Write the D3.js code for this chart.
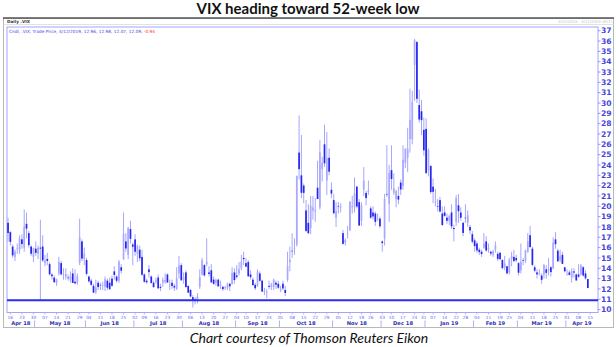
<!DOCTYPE html>
<html>
<head>
<meta charset="utf-8">
<script src="https://cdn.jsdelivr.net/npm/d3@7/dist/d3.min.js"></script>
<style>
  html, body { margin: 0; padding: 0; background: #fff; }
  svg { display: block; }
</style>
</head>
<body>
<svg id="chart" width="616" height="347"></svg>
<script>
// Daily .VIX candles, 13 Apr 2018 – 12 Apr 2019
const tradingDays = [
  // Apr 2018
  "2018-04-13","2018-04-16","2018-04-17","2018-04-18","2018-04-19","2018-04-20","2018-04-23","2018-04-24","2018-04-25","2018-04-26","2018-04-27","2018-04-30",
  // May
  "2018-05-01","2018-05-02","2018-05-03","2018-05-04","2018-05-07","2018-05-08","2018-05-09","2018-05-10","2018-05-11","2018-05-14","2018-05-15","2018-05-16","2018-05-17","2018-05-18","2018-05-21","2018-05-22","2018-05-23","2018-05-24","2018-05-25","2018-05-29","2018-05-30","2018-05-31",
  // Jun
  "2018-06-01","2018-06-04","2018-06-05","2018-06-06","2018-06-07","2018-06-08","2018-06-11","2018-06-12","2018-06-13","2018-06-14","2018-06-15","2018-06-18","2018-06-19","2018-06-20","2018-06-21","2018-06-22","2018-06-25","2018-06-26","2018-06-27","2018-06-28","2018-06-29",
  // Jul
  "2018-07-02","2018-07-03","2018-07-05","2018-07-06","2018-07-09","2018-07-10","2018-07-11","2018-07-12","2018-07-13","2018-07-16","2018-07-17","2018-07-18","2018-07-19","2018-07-20","2018-07-23","2018-07-24","2018-07-25","2018-07-26","2018-07-27","2018-07-30","2018-07-31",
  // Aug
  "2018-08-01","2018-08-02","2018-08-03","2018-08-06","2018-08-07","2018-08-08","2018-08-09","2018-08-10","2018-08-13","2018-08-14","2018-08-15","2018-08-16","2018-08-17","2018-08-20","2018-08-21","2018-08-22","2018-08-23","2018-08-24","2018-08-27","2018-08-28","2018-08-29","2018-08-30","2018-08-31",
  // Sep
  "2018-09-04","2018-09-05","2018-09-06","2018-09-07","2018-09-10","2018-09-11","2018-09-12","2018-09-13","2018-09-14","2018-09-17","2018-09-18","2018-09-19","2018-09-20","2018-09-21","2018-09-24","2018-09-25","2018-09-26","2018-09-27","2018-09-28",
  // Oct
  "2018-10-01","2018-10-02","2018-10-03","2018-10-04","2018-10-05","2018-10-08","2018-10-09","2018-10-10","2018-10-11","2018-10-12","2018-10-15","2018-10-16","2018-10-17","2018-10-18","2018-10-19","2018-10-22","2018-10-23","2018-10-24","2018-10-25","2018-10-26","2018-10-29","2018-10-30","2018-10-31",
  // Nov
  "2018-11-01","2018-11-02","2018-11-05","2018-11-06","2018-11-07","2018-11-08","2018-11-09","2018-11-12","2018-11-13","2018-11-14","2018-11-15","2018-11-16","2018-11-19","2018-11-20","2018-11-21","2018-11-23","2018-11-26","2018-11-27","2018-11-28","2018-11-29","2018-11-30",
  // Dec
  "2018-12-03","2018-12-04","2018-12-06","2018-12-07","2018-12-10","2018-12-11","2018-12-12","2018-12-13","2018-12-14","2018-12-17","2018-12-18","2018-12-19","2018-12-20","2018-12-21","2018-12-24","2018-12-26","2018-12-27","2018-12-28","2018-12-31",
  // Jan 2019
  "2019-01-02","2019-01-03","2019-01-04","2019-01-07","2019-01-08","2019-01-09","2019-01-10","2019-01-11","2019-01-14","2019-01-15","2019-01-16","2019-01-17","2019-01-18","2019-01-22","2019-01-23","2019-01-24","2019-01-25","2019-01-28","2019-01-29","2019-01-30","2019-01-31",
  // Feb
  "2019-02-01","2019-02-04","2019-02-05","2019-02-06","2019-02-07","2019-02-08","2019-02-11","2019-02-12","2019-02-13","2019-02-14","2019-02-15","2019-02-19","2019-02-20","2019-02-21","2019-02-22","2019-02-25","2019-02-26","2019-02-27","2019-02-28",
  // Mar
  "2019-03-01","2019-03-04","2019-03-05","2019-03-06","2019-03-07","2019-03-08","2019-03-11","2019-03-12","2019-03-13","2019-03-14","2019-03-15","2019-03-18","2019-03-19","2019-03-20","2019-03-21","2019-03-22","2019-03-25","2019-03-26","2019-03-27","2019-03-28","2019-03-29",
  // Apr
  "2019-04-01","2019-04-02","2019-04-03","2019-04-04","2019-04-05","2019-04-08","2019-04-09","2019-04-10","2019-04-11","2019-04-12"
];

const openPx = [
  18.4,17.5,16.1,15.1,15.9,15.8,16.8,16.0,18.3,17.4,16.1,15.1,
  15.9,15.4,16.0,16.1,14.5,14.9,14.4,13.4,13.1,12.6,13.5,14.5,13.4,13.2,13.1,12.9,13.5,12.7,12.6,14.5,16.6,14.9,
  14.8,13.2,12.8,12.3,11.7,12.6,12.4,12.3,12.2,12.8,12.6,13.0,13.7,13.2,12.8,14.1,14.9,16.6,15.3,17.8,16.3,
  16.8,15.4,15.8,15.1,13.4,12.8,13.9,13.2,12.6,12.7,13.1,12.2,12.6,12.7,13.4,12.4,12.6,12.3,12.0,13.5,14.3,
  12.9,13.6,12.3,11.9,11.2,11.0,11.0,12.2,13.4,14.3,14.4,13.6,13.8,12.9,12.6,12.9,12.3,12.2,12.1,12.1,12.5,12.5,13.6,
  13.3,13.5,14.0,15.0,14.5,14.6,13.4,12.9,12.4,12.3,13.5,12.8,11.7,11.6,12.3,12.2,12.2,12.6,12.5,
  11.9,12.5,11.9,12.9,14.6,15.7,15.9,16.3,25.2,23.0,22.0,19.6,18.4,17.9,19.6,19.5,21.8,19.9,23.6,26.0,22.5,24.7,21.6,
  20.6,18.9,20.0,19.9,17.4,16.5,17.3,17.7,19.9,19.9,21.9,20.4,18.6,21.6,21.3,21.4,19.8,19.4,19.3,18.7,18.8,
  16.6,16.9,21.2,20.2,23.5,21.3,20.7,21.0,22.3,22.0,24.2,24.7,26.5,26.5,33.7,35.9,29.8,29.2,27.4,
  27.5,23.5,23.9,21.9,20.4,20.0,20.6,19.3,19.4,18.9,18.6,19.4,17.9,18.5,20.1,19.4,18.4,18.9,18.4,18.0,17.3,
  16.7,16.4,15.8,15.6,16.0,16.6,15.8,15.6,15.3,15.8,15.4,15.5,14.8,14.1,14.2,13.6,14.9,15.1,15.0,
  14.5,13.8,14.8,14.7,15.6,17.2,15.9,14.1,13.6,13.5,13.3,13.4,13.9,13.8,14.1,14.0,16.8,15.7,14.8,15.3,14.1,
  13.4,13.6,13.1,13.7,13.4,13.4,13.4,14.1,13.5,12.96
];

const highPx = [
  18.9,17.6,16.3,15.8,16.4,17.2,17.3,19.7,19.4,17.6,16.2,16.0,
  16.6,16.2,18.7,17.2,15.3,15.5,14.6,13.5,13.3,13.0,15.1,14.7,14.0,14.0,13.4,13.7,14.0,13.9,13.5,18.8,16.8,16.0,
  15.0,13.3,13.0,12.5,12.9,12.8,12.6,12.7,13.2,13.0,13.1,13.3,14.2,13.3,14.8,14.4,19.4,17.4,18.0,18.6,16.5,
  17.3,16.3,16.2,15.8,13.5,13.0,14.3,13.3,12.8,13.1,13.4,12.5,13.1,13.5,13.5,12.9,12.9,12.5,14.1,15.2,14.5,
  13.6,13.8,12.3,12.0,11.4,11.2,11.6,13.9,15.0,14.4,16.9,14.2,14.4,13.2,13.0,13.0,12.8,12.3,12.3,12.6,12.6,14.1,14.0,
  14.3,14.6,15.3,15.6,15.0,14.8,13.8,13.1,12.6,13.9,13.7,12.9,12.1,12.0,12.8,12.6,13.0,12.8,12.8,
  12.3,12.8,12.3,15.6,16.1,17.4,16.9,22.9,28.8,26.9,22.2,20.6,20.2,21.0,21.0,20.8,24.4,26.4,24.8,27.9,27.2,25.6,22.3,
  21.2,20.4,20.4,20.3,17.7,16.9,18.1,20.5,21.0,22.8,22.0,20.7,20.4,23.8,21.5,22.5,20.0,20.0,19.5,19.3,19.0,
  16.7,21.2,25.9,24.0,25.9,23.2,21.6,21.9,22.6,25.9,25.6,27.6,31.4,31.2,36.2,36.0,31.3,30.3,28.6,
  28.5,25.6,24.0,22.7,21.7,20.7,20.9,20.0,20.0,19.3,19.2,20.2,18.2,21.1,21.2,19.9,18.5,20.2,19.6,18.2,17.6,
  16.9,16.6,16.0,15.8,17.4,17.1,16.4,15.7,15.8,16.6,15.6,15.6,14.9,15.2,14.2,15.0,15.6,15.8,15.3,
  14.6,16.4,15.0,15.8,17.4,18.1,16.1,14.3,13.9,13.9,13.5,14.4,14.3,15.0,14.2,17.0,17.5,15.9,15.8,15.6,14.1,
  13.9,13.8,14.0,14.0,13.5,14.4,14.4,14.2,13.8,12.98
];

const lowPx = [
  16.6,16.2,15.0,14.7,15.4,15.4,15.9,15.6,16.9,16.0,15.2,14.6,
  15.2,14.9,10.95,14.6,14.2,14.3,13.3,12.9,12.6,12.3,13.3,13.3,12.9,12.9,12.8,12.6,12.6,12.5,12.4,14.3,14.7,14.3,
  13.3,12.6,12.3,11.6,11.5,11.9,11.9,11.9,11.8,11.9,11.9,12.2,12.9,12.6,12.6,13.5,14.8,15.6,14.9,16.4,14.3,
  15.2,14.6,14.7,13.3,12.6,12.5,13.1,12.5,12.1,12.5,12.0,11.8,12.2,12.5,12.6,11.9,12.0,11.8,11.9,13.0,12.8,
  12.5,12.1,11.6,11.2,10.2,10.5,10.6,12.0,13.3,13.2,14.2,13.2,12.6,12.4,12.3,12.2,12.0,11.8,11.9,11.9,11.8,12.4,12.5,
  13.0,13.3,13.8,14.3,14.1,13.2,12.9,12.3,11.9,12.2,12.7,11.7,11.4,11.1,12.0,11.9,11.9,12.0,12.0,
  11.7,11.9,11.3,12.7,13.7,15.0,15.3,16.1,22.6,20.8,20.3,17.5,17.3,17.3,18.7,18.5,20.7,19.7,22.4,23.8,21.1,23.0,20.8,
  19.2,18.0,19.3,19.4,16.3,16.2,16.9,17.6,19.3,19.4,19.8,18.1,18.1,21.0,20.1,21.1,18.8,18.7,18.1,18.6,17.9,
  15.6,16.2,20.9,18.5,21.6,21.1,19.9,20.2,21.1,21.6,23.7,23.3,25.2,26.0,30.2,30.0,28.1,26.9,24.9,
  23.1,22.9,21.2,20.3,20.0,19.5,19.4,18.1,19.0,18.3,18.2,17.8,16.6,18.1,18.4,18.6,17.1,18.4,18.0,17.3,16.4,
  15.6,15.5,15.3,15.1,15.9,15.6,15.5,15.2,15.1,15.5,14.7,14.8,13.9,13.8,13.4,13.4,14.2,14.6,14.6,
  13.3,13.5,14.3,14.5,15.5,16.0,14.2,13.6,13.0,13.3,12.5,13.0,13.0,13.3,13.2,13.9,15.9,14.6,14.6,14.4,13.6,
  13.3,13.3,12.6,13.1,12.8,13.1,13.3,13.2,12.9,12.07
];

const closePx = [
  17.41,16.56,15.25,15.60,15.96,16.88,16.34,18.02,17.84,16.24,15.41,15.93,
  15.49,15.97,15.90,14.77,14.75,14.71,13.42,13.23,12.65,12.93,14.63,13.42,13.43,13.42,13.08,13.22,12.58,12.53,13.22,17.02,14.94,15.43,
  13.46,12.74,12.40,11.64,12.13,12.18,12.35,12.34,12.94,12.12,11.98,12.31,13.35,12.79,14.64,13.77,17.33,15.92,17.91,16.85,16.09,
  15.60,16.14,14.97,13.37,12.69,12.64,13.63,12.58,12.18,12.83,12.06,12.10,12.87,12.86,12.62,12.41,12.29,12.14,13.03,14.26,12.83,
  13.15,12.19,11.64,11.27,10.93,10.85,11.27,13.16,14.78,13.31,14.64,13.45,12.64,12.49,12.86,12.25,12.41,11.99,12.16,12.50,12.25,13.53,12.86,
  13.16,13.91,14.65,14.88,14.16,13.22,13.14,12.37,12.07,13.68,12.79,11.75,11.80,11.68,12.20,12.42,12.89,12.41,12.12,
  12.00,12.05,11.61,14.22,14.82,15.69,15.95,22.96,23.60,21.31,21.30,17.62,17.40,20.06,19.89,19.64,20.71,25.23,24.22,24.16,24.70,23.35,21.23,
  19.34,19.51,19.96,19.91,16.36,16.72,17.36,20.45,20.02,21.25,19.98,18.14,20.10,22.48,20.80,21.52,18.90,19.02,18.49,18.79,18.07,
  16.44,20.74,21.19,23.23,22.64,21.76,21.46,20.65,21.63,24.52,25.58,25.58,28.38,30.11,36.07,30.41,28.40,28.34,25.42,
  23.22,25.45,21.38,21.40,20.47,19.98,19.50,18.19,19.07,18.60,19.04,18.06,17.80,20.80,19.52,18.89,17.42,18.87,19.13,17.66,16.57,
  16.14,15.73,15.57,15.38,16.37,15.72,15.97,15.43,15.65,16.22,14.91,14.88,14.02,14.46,13.51,14.85,15.17,14.70,14.78,
  13.57,14.63,14.74,15.74,16.59,16.05,14.33,13.77,13.41,13.50,12.88,14.33,13.56,13.91,13.63,16.48,16.33,14.68,15.15,14.43,13.71,
  13.40,13.36,13.74,13.58,12.82,13.18,14.28,13.30,13.03,12.09
];

// Right-hand price axis labels
const priceTicks = [10,11,12,13,14,15,16,17,18,19,20,21,22,23,24,25,26,27,28,29,30,31,32,33,34,35,36,37];

// Weekly date ticks (first session of each week); the last one falls after the data
const weekTicks = [
  "2018-04-16","2018-04-23","2018-04-30","2018-05-07","2018-05-14","2018-05-21","2018-05-29",
  "2018-06-04","2018-06-11","2018-06-18","2018-06-25","2018-07-02","2018-07-09","2018-07-16","2018-07-23","2018-07-30",
  "2018-08-06","2018-08-13","2018-08-20","2018-08-27","2018-09-04","2018-09-10","2018-09-17","2018-09-24",
  "2018-10-01","2018-10-08","2018-10-15","2018-10-22","2018-10-29","2018-11-05","2018-11-12","2018-11-19","2018-11-26",
  "2018-12-03","2018-12-10","2018-12-17","2018-12-24","2018-12-31","2019-01-07","2019-01-14","2019-01-22","2019-01-28",
  "2019-02-04","2019-02-11","2019-02-19","2019-02-25","2019-03-04","2019-03-11","2019-03-18","2019-03-25",
  "2019-04-01","2019-04-08","2019-04-15"
];
const sessionsAfterData = ["2019-04-15"];

const monthNames = ["Apr 18","May 18","Jun 18","Jul 18","Aug 18","Sep 18","Oct 18","Nov 18","Dec 18","Jan 19","Feb 19","Mar 19","Apr 19"];
const monthKeys  = ["2018-04","2018-05","2018-06","2018-07","2018-08","2018-09","2018-10","2018-11","2018-12","2019-01","2019-02","2019-03","2019-04"];

const supportLevel = 10.9;   // 52-week low reference line

const legendText = "Cndl, .VIX, Trade Price, 4/12/2019, 12.96, 12.98, 12.07, 12.09, ";
const legendChange = "-0.94";

// ---------------------------------------------------------------
const W = 616, H = 347;
const plot = { left: 7, right: 598, top: 27, bottom: 312.5 };

const svg = d3.select("#chart");

const candles = tradingDays.map((d, i) => ({
  date: d, i, o: openPx[i], h: highPx[i], l: lowPx[i], c: closePx[i]
}));

const sessionIndex = new Map(tradingDays.concat(sessionsAfterData).map((d, i) => [d, i]));

const x = d3.scaleLinear().domain([-0.45, 255.4]).range([plot.left, plot.right]);
const y = d3.scaleLinear().domain([10, 37]).range([309.6, 30.7]);

// Title
svg.append("text")
  .attr("x", W / 2).attr("y", 13.5)
  .attr("text-anchor", "middle")
  .style("font-family", "Lato, 'Open Sans', sans-serif")
  .style("font-weight", "bold")
  .style("font-size", "15px")
  .attr("fill", "#111")
  .text("VIX heading toward 52-week low");

// Outer panel frame
svg.append("rect")
  .attr("x", 3.5).attr("y", 18.5).attr("width", 610).attr("height", 309)
  .attr("fill", "none").attr("stroke", "#b8b8b8").attr("stroke-width", 1);
svg.append("line")
  .attr("x1", 3).attr("x2", 614).attr("y1", 18).attr("y2", 18)
  .attr("stroke", "#555").attr("stroke-width", 1.5);
svg.append("line")
  .attr("x1", 3.5).attr("x2", 613.5).attr("y1", 24.5).attr("y2", 24.5)
  .attr("stroke", "#e2e2e2").attr("stroke-width", 1);

// Panel header
svg.append("text")
  .attr("x", 7).attr("y", 23)
  .style("font-family", "'DejaVu Sans', sans-serif")
  .style("font-weight", "bold")
  .style("font-size", "4.2px")
  .attr("fill", "#333")
  .text("Daily .VIX");
svg.append("text")
  .attr("x", 612).attr("y", 23)
  .attr("text-anchor", "end")
  .style("font-family", "'DejaVu Sans', sans-serif")
  .style("font-size", "3.8px")
  .attr("fill", "#c4c4c4")
  .text("4/13/2018 - 4/17/2019 (EST)");

// Plot frame
svg.append("rect")
  .attr("x", plot.left).attr("y", plot.top)
  .attr("width", plot.right - plot.left).attr("height", plot.bottom - plot.top)
  .attr("fill", "#fff").attr("stroke", "#a4a4ff").attr("stroke-width", 1);

// Legend line
const legend = svg.append("text")
  .attr("x", 9).attr("y", 33)
  .style("font-family", "'DejaVu Sans', sans-serif")
  .style("font-size", "4.3px")
  .attr("fill", "#4848d8");
legend.append("tspan").text(legendText);
legend.append("tspan").attr("fill", "#ff3030").text(legendChange);

// Clip the candles to the plot
svg.append("clipPath").attr("id", "plotClip")
  .append("rect")
  .attr("x", plot.left).attr("y", plot.top)
  .attr("width", plot.right - plot.left).attr("height", plot.bottom - plot.top);

const g = svg.append("g").attr("clip-path", "url(#plotClip)");

// Wicks
g.append("g").selectAll("line")
  .data(candles)
  .join("line")
  .attr("x1", d => x(d.i)).attr("x2", d => x(d.i))
  .attr("y1", d => y(d.h)).attr("y2", d => y(d.l))
  .attr("stroke", "#a6a6ff").attr("stroke-width", 1);

// Bodies: rising sessions light, falling sessions solid
const bodyW = 1.7;
g.append("g").selectAll("rect")
  .data(candles)
  .join("rect")
  .attr("x", d => x(d.i) - bodyW / 2)
  .attr("width", bodyW)
  .attr("y", d => y(Math.max(d.o, d.c)))
  .attr("height", d => Math.max(0.6, Math.abs(y(d.o) - y(d.c))))
  .attr("fill", d => d.c >= d.o ? "#a9a9ff" : "#2626f0");

// Reference line
g.append("line")
  .attr("x1", plot.left).attr("x2", plot.right)
  .attr("y1", y(supportLevel)).attr("y2", y(supportLevel))
  .attr("stroke", "#2b2bf2").attr("stroke-width", 2);

// Right price axis
const yAxis = svg.append("g").attr("transform", `translate(${plot.right},0)`);
yAxis.selectAll("line")
  .data(priceTicks)
  .join("line")
  .attr("x1", 0).attr("x2", 2.5)
  .attr("y1", d => y(d)).attr("y2", d => y(d))
  .attr("stroke", "#8080f0").attr("stroke-width", 0.8);
yAxis.selectAll("text")
  .data(priceTicks)
  .join("text")
  .attr("x", 3).attr("y", d => y(d))
  .attr("dy", "0.36em")
  .style("font-family", "'DejaVu Sans', sans-serif")
  .style("font-weight", "bold")
  .style("font-size", "7.6px")
  .attr("fill", "#4646dc")
  .text(d => d);

// Bottom date axis: weekly ticks with day numbers
const xAxis = svg.append("g");
const weekPos = weekTicks.map(d => ({ d, px: x(sessionIndex.get(d)) }));
xAxis.selectAll("line.tick")
  .data(weekPos)
  .join("line").attr("class", "tick")
  .attr("x1", d => d.px).attr("x2", d => d.px)
  .attr("y1", plot.bottom).attr("y2", plot.bottom + 2)
  .attr("stroke", "#a4a4ff").attr("stroke-width", 0.8);
xAxis.selectAll("text.day")
  .data(weekPos)
  .join("text").attr("class", "day")
  .attr("x", d => d.px).attr("y", 319.3)
  .attr("text-anchor", "middle")
  .style("font-family", "'DejaVu Sans', sans-serif")
  .style("font-size", "4.3px")
  .attr("fill", "#6a6ae6")
  .text(d => d.d.slice(8));

// Month bands
const monthSpans = monthKeys.map((k, m) => {
  const idx = tradingDays.map((d, i) => d.startsWith(k) ? i : -1).filter(i => i >= 0);
  const x0 = m === 0 ? plot.left : x(idx[0] - 0.5);
  const x1 = m === monthKeys.length - 1 ? plot.right : x(idx[idx.length - 1] + 0.5);
  return { name: monthNames[m], x0, x1 };
});
xAxis.selectAll("line.sep")
  .data(monthSpans.slice(1))
  .join("line").attr("class", "sep")
  .attr("x1", d => d.x0).attr("x2", d => d.x0)
  .attr("y1", 320.5).attr("y2", 327)
  .attr("stroke", "#9c9cf0").attr("stroke-width", 0.8);
xAxis.selectAll("text.month")
  .data(monthSpans)
  .join("text").attr("class", "month")
  .attr("x", d => (d.x0 + d.x1) / 2).attr("y", 325.3)
  .attr("text-anchor", "middle")
  .style("font-family", "'DejaVu Sans', sans-serif")
  .style("font-weight", "bold")
  .style("font-size", "5.2px")
  .attr("fill", "#3030b8")
  .text(d => d.name);

// Caption
svg.append("text")
  .attr("x", 309).attr("y", 342.5)
  .attr("text-anchor", "middle")
  .style("font-family", "Lato, 'Open Sans', sans-serif")
  .style("font-style", "italic")
  .style("font-size", "14px")
  .attr("fill", "#111")
  .text("Chart courtesy of Thomson Reuters Eikon");
</script>
</body>
</html>
